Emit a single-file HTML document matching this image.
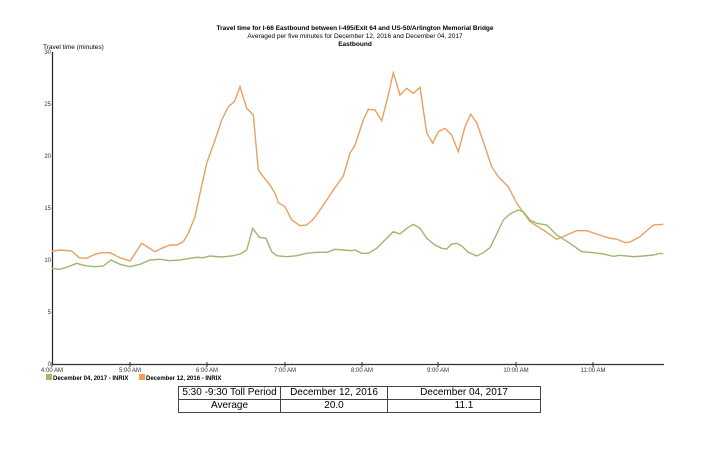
<!DOCTYPE html>
<html><head><meta charset="utf-8"><style>
body{margin:0;background:#fff;width:711px;height:460px;overflow:hidden;font-family:"Liberation Sans",sans-serif}
table{position:absolute;left:178px;top:386px;border-collapse:collapse;font-size:10px;font-family:"Liberation Sans",sans-serif;white-space:nowrap}
td{border:1px solid #444;text-align:center;height:12px;padding:0;line-height:12px}
</style></head><body>
<svg width="711" height="460" style="position:absolute;left:0;top:0" font-family="Liberation Sans, sans-serif">
<defs><clipPath id="c"><rect x="52" y="0" width="620" height="460"/></clipPath></defs>
<text x="355" y="30" font-size="6.5" font-weight="bold" text-anchor="middle">Travel time for I-66  Eastbound between I-495/Exit 64 and US-50/Arlington Memorial Bridge</text>
<text x="355" y="38" font-size="6.5" text-anchor="middle">Averaged per five minutes for December 12, 2016 and December 04, 2017</text>
<text x="355" y="46" font-size="6.5" font-weight="bold" text-anchor="middle">Eastbound</text>
<text x="43" y="49" font-size="6.5">Travel time (minutes)</text>
<g font-size="6" fill="#333" text-anchor="end">
<text x="51" y="54">30</text><text x="51" y="106">25</text><text x="51" y="158">20</text><text x="51" y="210">15</text><text x="51" y="262">10</text><text x="51" y="314">5</text><text x="51" y="366">0</text>
</g>
<line x1="52.5" y1="52" x2="52.5" y2="365" stroke="#222" stroke-width="1.2"/>
<line x1="52" y1="364.5" x2="664" y2="364.5" stroke="#333" stroke-width="1.2"/>
<g stroke="#333"><line x1="52" y1="362" x2="52" y2="367"/><line x1="130" y1="362" x2="130" y2="367"/><line x1="207" y1="362" x2="207" y2="367"/><line x1="285" y1="362" x2="285" y2="367"/><line x1="362" y1="362" x2="362" y2="367"/><line x1="438" y1="362" x2="438" y2="367"/><line x1="516" y1="362" x2="516" y2="367"/><line x1="593" y1="362" x2="593" y2="367"/></g>
<g font-size="6" fill="#333" text-anchor="middle">
<text x="52" y="372">4:00 AM</text><text x="130" y="372">5:00 AM</text><text x="207" y="372">6:00 AM</text><text x="285" y="372">7:00 AM</text><text x="362" y="372">8:00 AM</text><text x="438" y="372">9:00 AM</text><text x="516" y="372">10:00 AM</text><text x="593" y="372">11:00 AM</text>
</g>
<rect x="46" y="374" width="6" height="6" fill="#9dbb61"/>
<text x="53" y="380" font-size="6" font-weight="bold">December 04, 2017 - INRIX</text>
<rect x="139" y="374" width="6" height="6" fill="#f0a050"/>
<text x="146" y="380" font-size="6" font-weight="bold">December 12, 2016 - INRIX</text>
<g clip-path="url(#c)">
<polyline id="o" fill="none" stroke="#e8a060" stroke-width="1.4"/>
<polyline id="g" fill="none" stroke="#9cb870" stroke-width="1.4"/>
</g>
</svg>
<table>
<tr><td style="width:101px">5:30 -9:30 Toll Period</td><td style="width:106px">December 12, 2016</td><td style="width:152px">December 04, 2017</td></tr>
<tr><td>Average</td><td>20.0</td><td>11.1</td></tr>
</table>
<script>
function cv(a,ox,oy){var r=[];for(var i=0;i<a.length;i+=2)r.push((ox+a[i]/3).toFixed(1)+","+(oy+a[i+1]/3).toFixed(1));return r;}
var o5=[0,565,30,545,60,540,95,543,118,563,140,565,165,553,185,548,210,548,240,563,270,573,305,520,345,545,365,535,390,525,410,525,430,515,445,490,465,440,480,370,500,280,525,210,545,150,565,110,583,95,600,50,620,115,640,135,655,300,670,320,690,345,705,370,715,398,735,410,755,450,780,467,800,465,820,448,840,420,860,390,880,360,910,318,930,250,945,225];
var o6=[20,240,40,180,55,148,75,150,95,182,115,105,130,38,150,105,170,85,190,100,210,82,230,218,248,250,265,215,285,205,305,225,325,275,345,200,362,163,380,188,400,245,425,320,445,350,475,380,500,430,540,485,580,510,620,538,650,525,680,512,710,512,740,522,780,535,800,537,825,548,840,546,870,530,910,495,940,493];
var g5=[0,578,30,595,60,598,90,588,110,580,135,587,165,590,190,588,213,570,240,583,270,590,300,583,330,570,360,568,390,572,420,570,450,565,470,562,490,563,510,558,545,561,580,557,600,552,620,540,638,475,658,502,678,505,695,545,710,557,740,560,770,557,800,550,830,547,860,547,885,538,910,540,935,542];
var g6=[15,570,35,580,55,580,80,565,105,540,130,515,150,522,170,505,190,493,210,505,230,535,255,555,275,565,290,567,305,552,320,550,335,558,355,577,380,588,400,578,420,563,440,522,460,480,480,462,505,450,520,455,540,480,560,490,590,495,620,525,660,550,695,575,730,578,760,582,790,589,810,586,850,590,880,588,910,585,930,580,940,582];
document.getElementById("o").setAttribute("points",cv(o5,40,70).concat(cv(o6,350,60)).join(" "));
document.getElementById("g").setAttribute("points",cv(g5,40,70).concat(cv(g6,350,60)).join(" "));
</script>
</body></html>
